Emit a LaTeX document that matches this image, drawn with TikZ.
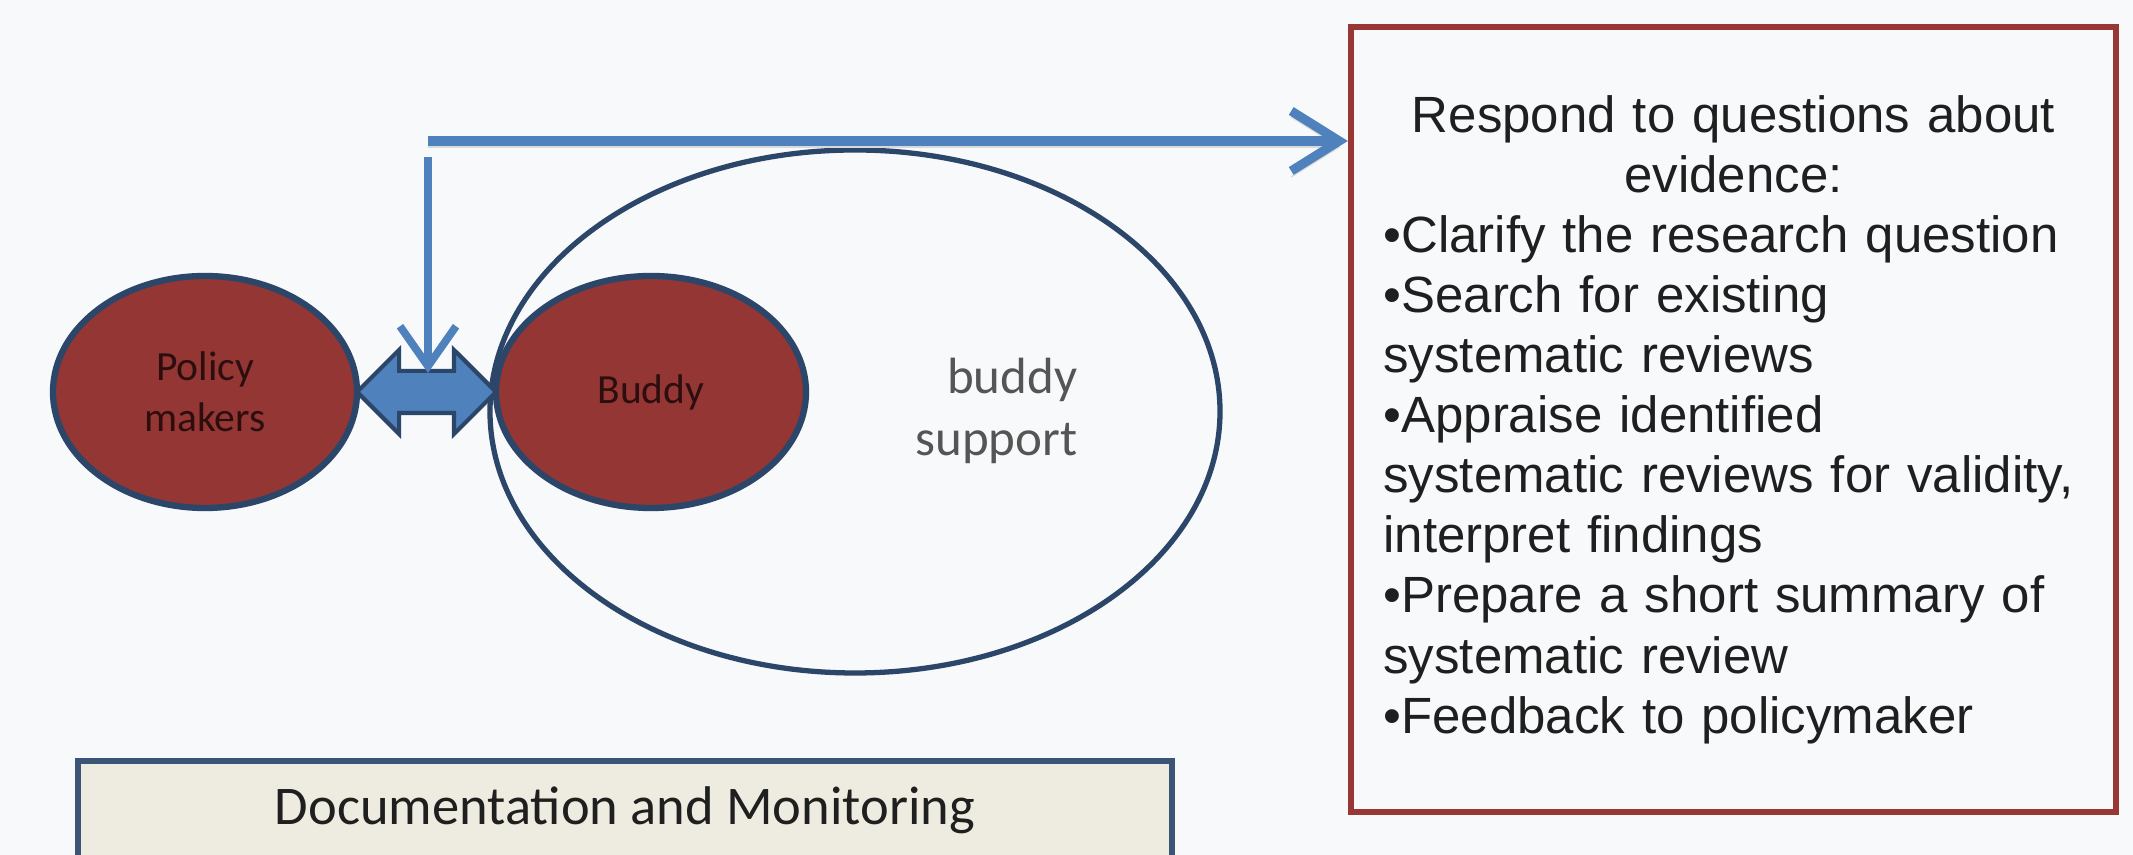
\documentclass[tikz,border=0pt]{standalone}
\usepackage{fontspec}
\setmainfont{Liberation Sans}
\newfontfamily\calibri{Carlito}
\usetikzlibrary{shapes,arrows.meta,positioning,calc}
\setlength\parindent{0pt}
\definecolor{pagebg}{RGB}{247,249,251}
\definecolor{arrowblue}{RGB}{79,129,189}
\definecolor{navyline}{RGB}{44,70,105}
\definecolor{buddyred}{RGB}{148,54,52}
\definecolor{frameblue}{RGB}{60,85,118}
\definecolor{boxred}{RGB}{153,55,53}
\definecolor{notebeige}{RGB}{238,236,225}
\definecolor{softgray}{RGB}{85,85,85}
\definecolor{darkink}{RGB}{45,14,14}
\tikzset{
    % Actor ellipses
    actor/.style={
        ellipse, draw=navyline, line width=1.8pt, fill=buddyred,
        minimum width=3.04cm, minimum height=2.32cm, inner sep=0pt
    },
    actortext/.style={
        font=\calibri\fontsize{11.8pt}{14.5pt}\selectfont, text=darkink, align=center
    },
    supportring/.style={
        ellipse, draw=navyline, line width=1.5pt,
        minimum width=7.3cm, minimum height=5.23cm
    },
    supporttext/.style={
        font=\calibri\fontsize{14.5pt}{17.4pt}\selectfont, text=softgray,
        align=right, inner sep=0pt
    },
    % Two-way exchange between the actors
    exchange/.style={
        double arrow, draw=navyline, line width=1.2pt, fill=arrowblue,
        double arrow head extend=0.21cm, inner xsep=0pt, inner ysep=0.19cm,
        minimum height=1.39cm
    },
    flow/.style={
        draw=arrowblue, line width=2.6pt
    },
    % Text boxes
    taskbox/.style={
        rectangle, draw=boxred, line width=1.8pt, fill=pagebg,
        minimum width=7.65cm, minimum height=7.85cm,
        text width=7.0cm, align=left, text=black!88,
        font=\fontsize{14.5pt}{17.1pt}\selectfont
    },
    logbox/.style={
        rectangle, draw=frameblue, line width=1.8pt, fill=notebeige,
        minimum width=10.94cm, minimum height=0.98cm,
        font=\calibri\fontsize{15.5pt}{18pt}\selectfont, text=black!88
    }
}

\begin{document}
\begin{tikzpicture}

% Page
\path[fill=pagebg, use as bounding box] (0,0) rectangle (21.33,8.55);

% Buddy support area
\node[supportring] (ring) at (8.55,4.435) {};
\node[supporttext, anchor=east] (ringlabel) at (10.78,4.44) {buddy\\support};

% Policy makers and buddy
\node[actor] (policy) at (2.05,4.63) {};
\node[actor, minimum width=3.10cm] (buddy) at (6.51,4.63) {};
\node[actortext] (policylabel) at (policy.center) {Policy\\makers};
\node[actortext] (buddylabel) at (buddy.center) {Buddy};

% Exchange arrow
\node[exchange] (link) at ($(policy.east)!0.5!(buddy.west)$) {};

% Questions box
\node[taskbox] (tasks) at (17.335,4.355) {%
    {\centering Respond to questions about\\ evidence:\par}
    \raggedright
    •Clarify the research question\\
    •Search for existing\\
    systematic reviews\\
    •Appraise identified\\
    systematic reviews for validity,\\
    interpret findings\\
    •Prepare a short summary of\\
    systematic review\\
    •Feedback to policymaker};

% Request arrows
\coordinate (fork) at (4.28,7.14);
\coordinate (drop) at (4.28,6.98);
\draw[flow, preaction={draw=black!15, transform canvas={yshift=-0.06cm}},
    -{Straight Barb[length=0.48cm, width=0.6cm]}] (fork) -- (fork -| tasks.west);
\draw[flow, line width=2.2pt, shorten >=0.19cm,
    -{Straight Barb[length=0.4cm, width=0.56cm]}] (drop) -- (drop |- link.center);

% Documentation box
\node[logbox] (log) at (6.25,0.45) {Documentation and Monitoring};

\end{tikzpicture}
\end{document}
